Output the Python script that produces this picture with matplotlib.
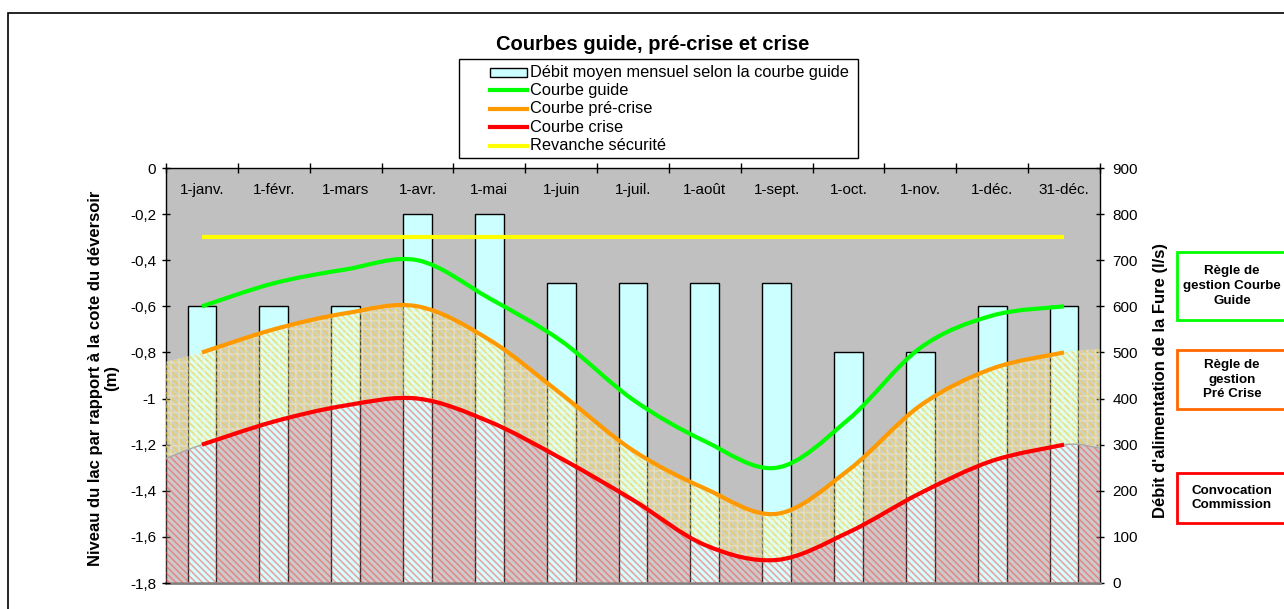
import numpy as np
import matplotlib
matplotlib.use("Agg")
import matplotlib.pyplot as plt
from matplotlib.path import Path
from matplotlib.patches import PathPatch, Rectangle
from matplotlib.lines import Line2D
from matplotlib.ticker import FuncFormatter, FixedLocator

# ---------------- data ----------------
categories = ['1-janv.', '1-févr.', '1-mars', '1-avr.', '1-mai', '1-juin', '1-juil.',
              '1-août', '1-sept.', '1-oct.', '1-nov.', '1-déc.', '31-déc.']
debit = [600, 600, 600, 800, 800, 650, 650, 650, 650, 500, 500, 600, 600]
courbe_guide = [-0.60, -0.50, -0.44, -0.40, -0.565, -0.75, -1.005, -1.185, -1.30, -1.09, -0.78, -0.64, -0.60]
courbe_precrise = [-0.80, -0.70, -0.63, -0.60, -0.745, -0.98, -1.225, -1.39, -1.50, -1.31, -1.03, -0.87, -0.80]
courbe_crise = [-1.20, -1.10, -1.03, -1.00, -1.10, -1.26, -1.44, -1.635, -1.70, -1.58, -1.41, -1.27, -1.20]
revanche = [-0.30] * 13
# area series values at the plot edges (left, right)
zone_precrise_bords = (-0.84, -0.785)
zone_crise_bords = (-1.26, -1.215)

yticks_left = [0, -0.2, -0.4, -0.6, -0.8, -1.0, -1.2, -1.4, -1.6, -1.8]
yticks_right = [0, 100, 200, 300, 400, 500, 600, 700, 800, 900]

plt.rcParams['font.family'] = ['Liberation Sans', 'DejaVu Sans']
plt.rcParams['axes.unicode_minus'] = False
plt.rcParams['hatch.linewidth'] = 1.2

W, H = 1284, 609
fig = plt.figure(figsize=(W / 100, H / 100), dpi=100)


def fx(px):
    return px / W


def fy(py):
    return 1 - py / H


# plot rectangle
L, R, T, B = 166, 1100, 168, 583
rect = [fx(L), fy(B), fx(R) - fx(L), fy(T) - fy(B)]

n = len(categories)
x = np.arange(n)

# ---- bars axis (right scale) ----
axB = fig.add_axes(rect)
axB.set_facecolor('#C0C0C0')
axB.bar(x, debit, width=0.4, color='#CCFFFF', edgecolor='black', linewidth=1.0, zorder=2)
axB.set_xlim(-0.5, n - 0.5)
axB.set_ylim(0, 900)
axB.yaxis.tick_right()
axB.yaxis.set_major_locator(FixedLocator(yticks_right))
axB.tick_params(axis='y', direction='inout', length=6, width=1, labelsize=11, pad=6)
axB.set_xticks([])
for s in ['left', 'top']:
    axB.spines[s].set_visible(False)
axB.spines['bottom'].set_color('#808080')
axB.spines['bottom'].set_linewidth(2)
axB.spines['right'].set_linewidth(1)

# ---- lines axis (left scale) ----
axL = fig.add_axes(rect, facecolor='none')
axL.set_xlim(-0.5, n - 0.5)
axL.set_ylim(-1.8, 0)
axL.yaxis.set_major_locator(FixedLocator(yticks_left))
axL.yaxis.set_major_formatter(FuncFormatter(lambda v, p: ('%g' % round(v, 1)).replace('.', ',')))
axL.tick_params(axis='y', direction='inout', length=6, width=1, labelsize=11, pad=4)
axL.xaxis.tick_top()
axL.set_xticks(np.arange(n + 1) - 0.5)
axL.set_xticklabels([])
axL.tick_params(axis='x', direction='inout', length=7, width=1)
for s in ['right', 'bottom']:
    axL.spines[s].set_visible(False)
axL.spines['left'].set_linewidth(1)
axL.spines['top'].set_linewidth(1)
for i, c in enumerate(categories):
    axL.text(i, 0.947, c, transform=axL.get_xaxis_transform(), ha='center', va='center', fontsize=11)


def bezier_verts(xs, ys):
    pts = np.column_stack([xs, ys]).astype(float)
    m = len(pts)
    verts = [pts[0]]
    for i in range(m - 1):
        p0 = pts[i - 1] if i > 0 else pts[i]
        p1 = pts[i]
        p2 = pts[i + 1]
        p3 = pts[i + 2] if i + 2 < m else pts[i + 1]
        verts += [p1 + (p2 - p0) / 6.0, p2 - (p3 - p1) / 6.0, p2]
    return np.array(verts)


def curve_path(xs, ys):
    v = bezier_verts(xs, ys)
    codes = [Path.MOVETO] + [Path.CURVE4] * (len(v) - 1)
    return Path(v, codes)


xe = np.concatenate([[-0.5], x, [n - 0.5]])
top_pc = np.concatenate([[zone_precrise_bords[0]], courbe_precrise, [zone_precrise_bords[1]]])
top_cr = np.concatenate([[zone_crise_bords[0]], courbe_crise, [zone_crise_bords[1]]])

v_top = bezier_verts(xe, top_pc)
v_bot = bezier_verts(xe, top_cr)[::-1]
verts_y = np.vstack([v_top, v_bot, v_top[:1]])
codes_y = ([Path.MOVETO] + [Path.CURVE4] * (len(v_top) - 1) + [Path.LINETO] +
           [Path.CURVE4] * (len(v_bot) - 1) + [Path.CLOSEPOLY])
path_yellow = Path(verts_y, codes_y)

v_r = bezier_verts(xe, top_cr)
verts_r = np.vstack([v_r, [[n - 0.5, -1.8], [-0.5, -1.8], v_r[0]]])
codes_r = [Path.MOVETO] + [Path.CURVE4] * (len(v_r) - 1) + [Path.LINETO, Path.LINETO, Path.CLOSEPOLY]
path_red = Path(verts_r, codes_r)

# yellow (pre-crise) zone
axL.add_patch(PathPatch(path_yellow, facecolor=(1.0, 1.0, 0.75), alpha=0.28, lw=0, zorder=3))
axL.add_patch(PathPatch(path_yellow, facecolor='none', edgecolor='#F5C838', hatch='\\' * 5,
                        lw=0, alpha=0.6, zorder=3))
axL.add_patch(PathPatch(path_yellow, facecolor='none', edgecolor='white', hatch='++',
                        lw=0, alpha=0.28, zorder=3))
# red (crise) zone
axL.add_patch(PathPatch(path_red, facecolor='white', alpha=0.18, lw=0, zorder=3))
axL.add_patch(PathPatch(path_red, facecolor='none', edgecolor='#FF3A3A', hatch='\\' * 5,
                        lw=0, alpha=0.45, zorder=3))
axL.add_patch(PathPatch(curve_path(xe, top_cr), facecolor='none', edgecolor='#A8A8A8', lw=1.0, zorder=3))

# curves
axL.add_patch(PathPatch(curve_path(x, courbe_precrise), facecolor='none', edgecolor='#FF9900', lw=3, zorder=5))
axL.add_patch(PathPatch(curve_path(x, courbe_crise), facecolor='none', edgecolor='#FF0000', lw=3, zorder=5))
axL.add_patch(PathPatch(curve_path(x, courbe_guide), facecolor='none', edgecolor='#00FF00', lw=3, zorder=6))
axL.plot(x, revanche, color='#FFFF00', lw=3, zorder=6, solid_capstyle='butt')

# ---- axis labels ----
fig.text(fx(104), fy(378), "Niveau du lac par rapport à la cote du déversoir\n(m)", rotation=90,
         ha='center', va='center', fontsize=12, fontweight='bold', multialignment='center', linespacing=1.1)
fig.text(fx(1160), fy(380), "Débit d'alimentation de la Fure (l/s)", rotation=90,
         ha='center', va='center', fontsize=12, fontweight='bold')

# ---- title ----
fig.text(fx(653), fy(45), "Courbes guide, pré-crise et crise", ha='center', va='center',
         fontsize=14.5, fontweight='bold')

# ---- legend (drawn manually) ----
fig.add_artist(Rectangle((fx(459), fy(158)), fx(858) - fx(459), fy(59) - fy(158), transform=fig.transFigure,
                         facecolor='white', edgecolor='black', lw=1))
rows = [72, 90, 109, 127, 146]
labels = ['Débit moyen mensuel selon la courbe guide', 'Courbe guide', 'Courbe pré-crise',
          'Courbe crise', 'Revanche sécurité']
colors = [None, '#00FF00', '#FF9900', '#FF0000', '#FFFF00']
for r, lab, col in zip(rows, labels, colors):
    if col is None:
        fig.add_artist(Rectangle((fx(490), fy(r + 4.5)), fx(527) - fx(490), fy(r - 4.5) - fy(r + 4.5),
                                 transform=fig.transFigure, facecolor='#CCFFFF', edgecolor='black', lw=1))
    else:
        fig.add_artist(Line2D([fx(490), fx(527)], [fy(r), fy(r)], transform=fig.transFigure, color=col, lw=3))
    fig.text(fx(530), fy(r), lab, ha='left', va='center', fontsize=11.8)

# ---- side boxes ----
boxes = [(252, 320, '#00FF00', "Règle de\ngestion Courbe\nGuide"),
         (350, 409, '#FF6600', "Règle de\ngestion\nPré Crise"),
         (473, 523, '#FF0000', "Convocation\nCommission")]
for top, bot, col, txt in boxes:
    fig.add_artist(Rectangle((fx(1177), fy(bot)), fx(1300) - fx(1177), fy(top) - fy(bot),
                             transform=fig.transFigure, facecolor='white', edgecolor=col, lw=2, clip_on=False))
    fig.text(fx(1232), fy((top + bot) / 2), txt, ha='center', va='center', fontsize=9.6,
             fontweight='bold', linespacing=1.3)

# outer frame
fig.add_artist(Rectangle((fx(8), -0.1), 1.2, fy(13) + 0.1, transform=fig.transFigure,
                         facecolor='none', edgecolor='black', lw=1.2, zorder=0))

fig.savefig('out.png', dpi=100)
